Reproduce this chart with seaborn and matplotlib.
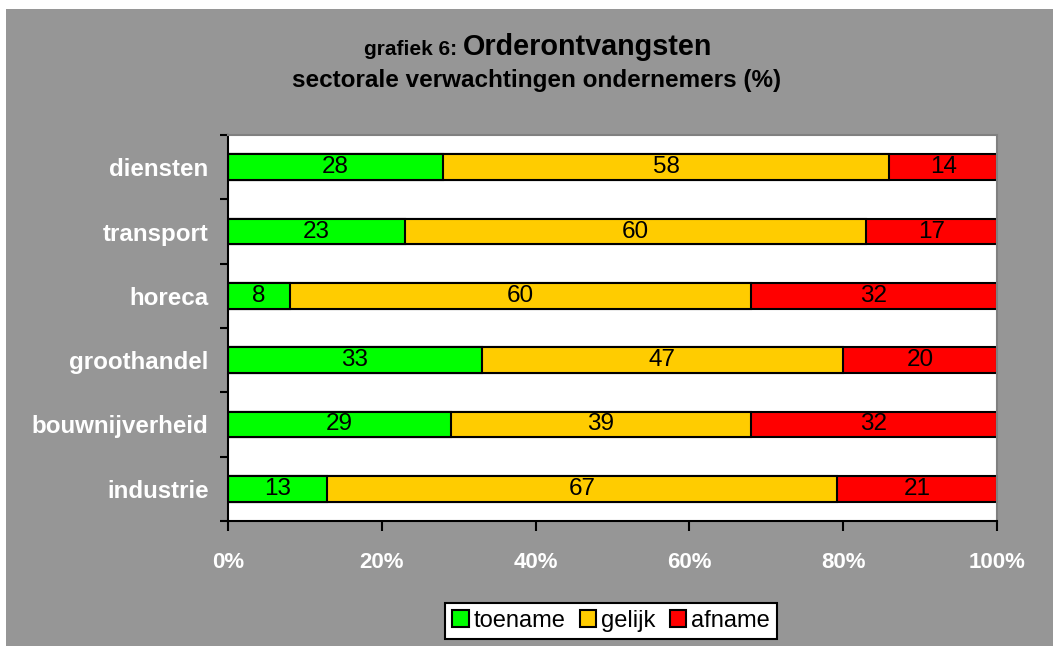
import numpy as np
import pandas as pd

import matplotlib
matplotlib.use("Agg")
import matplotlib.pyplot as plt
import matplotlib.patches as mpatches
import seaborn as sns

# ==========================================
# DATA
# ==========================================

sectors = ["diensten", "transport", "horeca",
           "groothandel", "bouwnijverheid", "industrie"]

toename = [28, 23, 8, 33, 29, 13]
gelijk = [58, 60, 60, 47, 39, 67]
afname = [14, 17, 32, 20, 32, 21]

series_names = ["toename", "gelijk", "afname"]
series_colors = ["#00FF00", "#FFCC00", "#FF0000"]

xticks = [0, 20, 40, 60, 80, 100]

df = pd.DataFrame({
    "sector": sectors,
    "toename": toename,
    "gelijk": gelijk,
    "afname": afname
})

# 100% stacked: scale each row to its total
total = df["toename"] + df["gelijk"] + df["afname"]
df["cum1"] = df["toename"] / total * 100
df["cum2"] = (df["toename"] + df["gelijk"]) / total * 100
df["cum3"] = 100.0 * total / total

sns.set_style("white")
plt.rcParams["font.family"] = ["Liberation Sans", "DejaVu Sans"]
plt.rcParams["text.color"] = "black"

BG = "#969696"

fig = plt.figure(figsize=(10.53, 6.46), dpi=100, facecolor="white")

fig.patches.append(
    mpatches.Rectangle(
        (6 / 1053, 0), 1 - 6 / 1053, 1 - 9 / 646,
        transform=fig.transFigure,
        facecolor=BG,
        edgecolor="none",
        zorder=-10
    )
)

ax = fig.add_axes([228 / 1053, 1 - 521 / 646, 769 / 1053, 386 / 646])
ax.set_facecolor("white")
ax.set_zorder(1)

# stacked bars: draw totals first, then overlay shorter ones
for col, color in zip(["cum3", "cum2", "cum1"], series_colors[::-1]):
    sns.barplot(
        data=df,
        x=col,
        y="sector",
        order=sectors,
        orient="h",
        color=color,
        saturation=1,
        width=0.4,
        edgecolor="black",
        linewidth=1.5,
        ax=ax
    )

# value labels
for i, row in df.iterrows():
    starts = [0, row["cum1"], row["cum2"]]
    ends = [row["cum1"], row["cum2"], row["cum3"]]
    vals = [row["toename"], row["gelijk"], row["afname"]]
    for s, e, v in zip(starts, ends, vals):
        ax.text((s + e) / 2, i, str(v), ha="center", va="center",
                fontsize=17.5, color="black")

ax.set_xlim(0, 100)
ax.set_ylim(5.5, -0.5)

ax.set_xticks(xticks)
ax.set_xticklabels([f"{t}%" for t in xticks], color="white",
                   fontweight="bold", fontsize=16)
ax.tick_params(axis="x", direction="out", length=7, width=1.5,
               color="black", pad=15, bottom=True)

ax.set_yticks(np.arange(-0.5, 6.0, 1.0))
ax.set_yticklabels([])
ax.tick_params(axis="y", which="major", direction="out", length=6,
               width=1.5, color="black", left=True)
ax.set_yticks(np.arange(len(sectors)), minor=True)
ax.set_yticklabels(sectors, minor=True, color="white",
                   fontweight="bold", fontsize=17.4)
ax.tick_params(axis="y", which="minor", length=0, pad=14)

ax.set_xlabel("")
ax.set_ylabel("")

for side in ["left", "bottom"]:
    ax.spines[side].set_color("black")
    ax.spines[side].set_linewidth(1.5)
for side in ["top", "right"]:
    ax.spines[side].set_color("#808080")
    ax.spines[side].set_linewidth(1.5)

# title
fig.text(463 / 1053, 1 - 55 / 646, "grafiek 6: ", ha="right",
         va="baseline", fontsize=15, fontweight="bold")
fig.text(463 / 1053, 1 - 55 / 646, "Orderontvangsten", ha="left",
         va="baseline", fontsize=20.7, fontweight="bold")
fig.text(537 / 1053, 1 - 80 / 646,
         "sectorale verwachtingen ondernemers (%)",
         ha="center", va="center", fontsize=17.5, fontweight="bold")

# legend
handles = [
    mpatches.Patch(facecolor=c, edgecolor="black", linewidth=1.5, label=n)
    for n, c in zip(series_names, series_colors)
]
leg = fig.legend(
    handles=handles,
    loc="center",
    bbox_to_anchor=(611 / 1053, 1 - 621 / 646),
    ncol=3,
    frameon=True,
    fancybox=False,
    edgecolor="black",
    fontsize=17,
    handlelength=0.7,
    handleheight=0.7,
    handletextpad=0.2,
    columnspacing=0.6,
    borderpad=0.3
)
leg.get_frame().set_linewidth(1.5)
leg.get_frame().set_facecolor("white")
leg.get_frame().set_alpha(1)

fig.savefig("out.png", dpi=100, facecolor=fig.get_facecolor())
